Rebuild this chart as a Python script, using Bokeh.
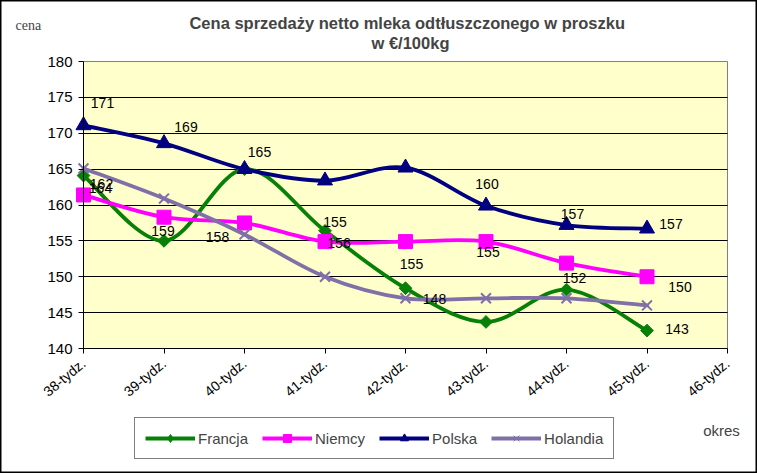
import math
from bokeh.plotting import figure
from bokeh.models import Range1d, FixedTicker, Label, Legend, LegendItem, ColumnDataSource
from bokeh.core.properties import value
from bokeh.embed import file_html
from bokeh.resources import INLINE

# ---------------- data ----------------
weeks = ["38-tydz.", "39-tydz.", "40-tydz.", "41-tydz.", "42-tydz.",
         "43-tydz.", "44-tydz.", "45-tydz.", "46-tydz."]
francja = [164.1, 155.0, 165.0, 156.4, 148.4, 143.7, 148.2, 142.5]
niemcy = [161.4, 158.3, 157.5, 154.9, 154.9, 154.9, 151.9, 150.0]
polska = [171.1, 168.6, 165.0, 163.4, 165.2, 159.9, 157.2, 156.7]
holandia = [165.1, 160.9, 155.9, 150.0, 147.0, 147.0, 147.0, 146.0]
y_ticks = [140, 145, 150, 155, 160, 165, 170, 175, 180]

# data labels as printed on the chart, each tied to a series point
label_text = ["171", "169", "165", "164", "162", "159", "158", "155", "156",
              "155", "148", "160", "155", "157", "152", "157", "150", "143"]
label_series = ["Polska", "Polska", "Polska", "Francja", "Niemcy", "Niemcy", "Niemcy",
                "Francja", "Niemcy", "Niemcy", "Holandia", "Polska", "Niemcy",
                "Polska", "Francja", "Polska", "Niemcy", "Francja"]
label_index = [0, 1, 2, 0, 0, 1, 2, 3, 3, 4, 4, 5, 5, 6, 6, 7, 7, 7]
# label placement offsets (screen px)
label_dx = [19, 22, 15, 17, 18, -1, -27, 10, 14, 6, 29, 1, 2, 6, 8, 24, 33, 30]
label_dy = [-22, -16, -17, 12, -11, 14, 14, -9, 1, 22, 1, -22, 10, -11, -12, -5, 10, -2]

series = {"Francja": francja, "Niemcy": niemcy, "Polska": polska, "Holandia": holandia}
colors = {"Francja": "#078007", "Niemcy": "#FF00FF", "Polska": "#000080", "Holandia": "#8070A8"}

FONT = "Liberation Sans"

# ---------------- layout (pixels of the plot area inside the 757x473 canvas) ----------------
W, H = 757, 473
PX_L, PX_R, PX_T, PX_B = 83, 727, 61, 348
n_cat = len(weeks) - 1
y_lo, y_hi = y_ticks[0], y_ticks[-1]
ppx = (PX_R - PX_L) / n_cat
ppy = (PX_B - PX_T) / (y_hi - y_lo)


def sx(px):
    return (px - PX_L) / ppx


def sy(py):
    return y_lo + (PX_B - py) / ppy


p = figure(width=W, height=H, output_backend="svg", toolbar_location=None,
           x_range=Range1d(sx(0), sx(W)), y_range=Range1d(sy(H), sy(0)),
           min_border=0, min_border_left=0, min_border_right=0, min_border_top=0,
           min_border_bottom=0, background_fill_color="white", border_fill_color="white",
           title=None)
p.outline_line_color = "black"
p.outline_line_width = 2

# plot area
p.quad(left=[0], right=[n_cat], bottom=[y_lo], top=[y_hi], fill_color="#FFFFCC",
       line_color="#808080", line_width=1, level="image")

# axes (fixed inside the frame)
p.xaxis.fixed_location = y_lo
p.xaxis.bounds = (0, n_cat)
p.xaxis.ticker = FixedTicker(ticks=list(range(len(weeks))))
p.xaxis.major_label_overrides = {i: w for i, w in enumerate(weeks)}
p.xaxis.major_label_orientation = math.radians(40)
p.xaxis.major_label_text_font = FONT
p.xaxis.major_label_text_font_size = "14px"
p.xaxis.major_label_standoff = 8
p.yaxis.fixed_location = 0
p.yaxis.bounds = (y_lo, y_hi)
p.yaxis.ticker = FixedTicker(ticks=y_ticks)
p.yaxis.major_label_text_font = FONT
p.yaxis.major_label_text_font_size = "15px"
p.yaxis.major_label_standoff = 6
for ax in (p.xaxis, p.yaxis):
    ax.axis_line_color = "black"
    ax.major_tick_line_color = "black"
    ax.major_tick_out = 5
    ax.major_tick_in = 0
    ax.minor_tick_line_color = None
    ax.major_label_text_color = "black"
p.xgrid.visible = False
grid = p.ygrid[0]
if "cross_bounds" in grid.properties():
    grid.ticker = FixedTicker(ticks=y_ticks[1:-1])
    grid.cross_bounds = (0, n_cat)
    grid.grid_line_color = "black"
    grid.grid_line_width = 1
else:
    grid.visible = False
    inner = y_ticks[1:-1]
    p.segment(x0=[0] * len(inner), x1=[n_cat] * len(inner), y0=inner, y1=inner,
              line_color="black", line_width=1, level="underlay")


def bezier_segments(ys):
    """Smoothed-line control points (Catmull-Rom style) between consecutive points."""
    n = len(ys)
    xs = list(range(n))
    d = dict(x0=[], y0=[], x1=[], y1=[], cx0=[], cy0=[], cx1=[], cy1=[])
    for i in range(n - 1):
        i0 = max(i - 1, 0)
        i3 = min(i + 2, n - 1)
        d["x0"].append(xs[i]); d["y0"].append(ys[i])
        d["x1"].append(xs[i + 1]); d["y1"].append(ys[i + 1])
        d["cx0"].append(xs[i] + (xs[i + 1] - xs[i0]) / 6)
        d["cy0"].append(ys[i] + (ys[i + 1] - ys[i0]) / 6)
        d["cx1"].append(xs[i + 1] - (xs[i3] - xs[i]) / 6)
        d["cy1"].append(ys[i + 1] - (ys[i3] - ys[i]) / 6)
    return ColumnDataSource(d)


markers = {
    "Francja": dict(marker="square", size=9, angle=math.pi / 4),
    "Niemcy": dict(marker="square", size=14),
    "Polska": dict(marker="triangle", size=15),
    "Holandia": dict(marker="x", size=14, line_width=2),
}
legend_markers = {
    "Francja": dict(marker="diamond", size=10),
    "Niemcy": dict(marker="square", size=10),
    "Polska": dict(marker="triangle", size=10),
    "Holandia": dict(marker="x", size=10, line_width=1),
}

items = []
for name, ys in series.items():
    c = colors[name]
    p.bezier(x0="x0", y0="y0", x1="x1", y1="y1", cx0="cx0", cy0="cy0", cx1="cx1", cy1="cy1",
             source=bezier_segments(ys), line_color=c, line_width=3.8, line_cap="round")
    # legend swatches (single point, hidden beneath the chart markers)
    leg_line = p.line(x=[0], y=[ys[0]], line_color=c, line_width=4)
    lm = dict(legend_markers[name])
    llw = lm.pop("line_width", 1)
    leg_mark = p.scatter(x=[0], y=[ys[0]], fill_color=c, line_color=c, line_width=llw, **lm)
    m = dict(markers[name])
    lw = m.pop("line_width", 1)
    p.scatter(x=list(range(len(ys))), y=ys, fill_color=c, line_color=c, line_width=lw, **m)
    items.append(LegendItem(label=name, renderers=[leg_line, leg_mark]))

# data labels
lab_y = [series[s][i] for s, i in zip(label_series, label_index)]
lsrc = ColumnDataSource(dict(x=label_index, y=lab_y, text=label_text, dx=label_dx, dy=label_dy))
p.text(x="x", y="y", text="text", x_offset="dx", y_offset="dy", source=lsrc,
       text_align="center", text_baseline="middle", text_font=value(FONT),
       text_font_size="14px", text_color="black")

legend = Legend(items=items, orientation="horizontal", location=(134, H - 459),
                glyph_width=50, glyph_height=20, label_standoff=3, spacing=14, padding=10,
                label_text_font=FONT, label_text_font_size="15px",
                border_line_color="black", border_line_width=1,
                background_fill_color="white", background_fill_alpha=1)
p.add_layout(legend, "center")

# titles and axis captions
p.add_layout(Label(x=sx(409), y=sy(22), text="Cena sprzedaży netto mleka  odtłuszczonego w proszku",
                   text_align="center", text_baseline="middle", text_font=FONT,
                   text_font_size="16.5px", text_font_style="bold"))
p.add_layout(Label(x=sx(410), y=sy(42), text="w €/100kg",
                   text_align="center", text_baseline="middle", text_font=FONT,
                   text_font_size="16.5px", text_font_style="bold"))
p.add_layout(Label(x=sx(15), y=sy(25), text="cena",
                   text_align="left", text_baseline="middle", text_font="Liberation Serif",
                   text_font_size="14px"))
p.add_layout(Label(x=sx(721), y=sy(430), text="okres",
                   text_align="center", text_baseline="middle", text_font=FONT,
                   text_font_size="15px"))

open("out.html", "w").write(file_html(p, INLINE))
